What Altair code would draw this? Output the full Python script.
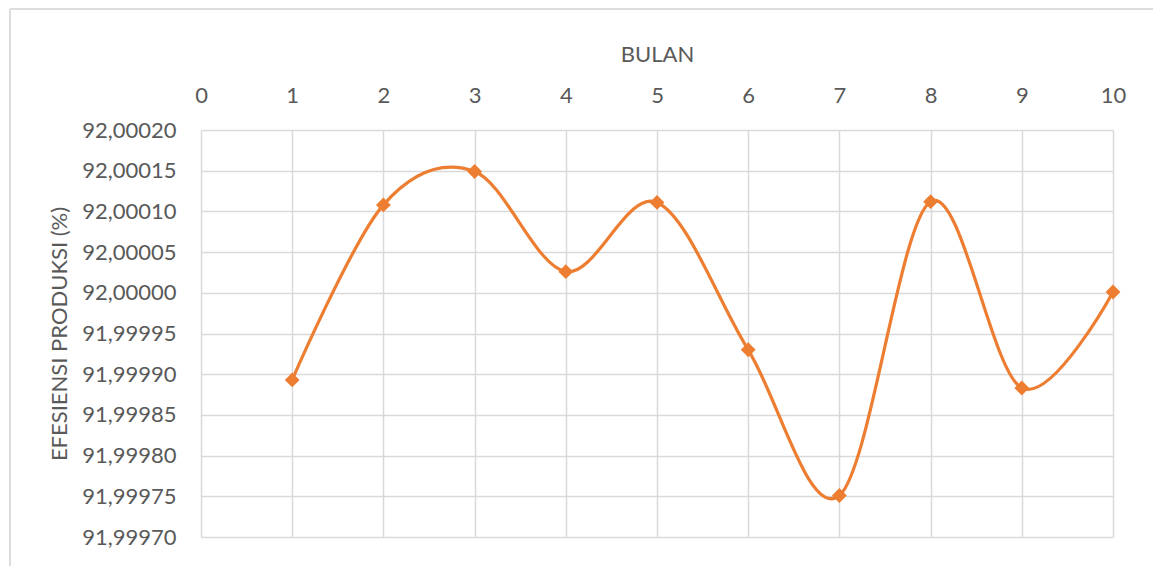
import altair as alt
import pandas as pd

# Monthly production efficiency (%)
bulan = [1, 2, 3, 4, 5, 6, 7, 8, 9, 10]
efesiensi = [91.999893, 92.000108, 92.000149, 92.000026, 92.000111,
             91.999930, 91.999751, 92.000112, 91.999883, 92.000001]

x_ticks = [0, 1, 2, 3, 4, 5, 6, 7, 8, 9, 10]
y_ticks = [91.99970, 91.99975, 91.99980, 91.99985, 91.99990, 91.99995,
           92.00000, 92.00005, 92.00010, 92.00015, 92.00020]

df = pd.DataFrame({"BULAN": bulan, "EFESIENSI": efesiensi})

FONT = "Lato"
TEXT = "#595959"
GRID = "#d9d9d9"
ORANGE = "#ED7D31"

x_enc = alt.X(
    "BULAN:Q",
    scale=alt.Scale(domain=[0, 10], nice=False, zero=False),
    axis=alt.Axis(
        orient="top", values=x_ticks, format="d", title="BULAN",
        ticks=False, tickSize=0, domain=False, labelPadding=23,
        labelFlush=False, titlePadding=18,
    ),
)
y_enc = alt.Y(
    "EFESIENSI:Q",
    scale=alt.Scale(domain=[91.99970, 92.00020], nice=False, zero=False),
    axis=alt.Axis(
        values=y_ticks, title="EFESIENSI PRODUKSI (%)",
        labelExpr="replace(format(datum.value, '.5f'), '.', ',')",
        ticks=False, tickSize=0, domain=False, labelPadding=25,
        titlePadding=10,
    ),
)

line = alt.Chart(df).mark_line(
    interpolate="cardinal", tension=0, color=ORANGE, strokeWidth=3.2
).encode(x=x_enc, y=y_enc)

points = alt.Chart(df).mark_point(
    shape="diamond", filled=True, size=220, color=ORANGE, opacity=1
).encode(x="BULAN:Q", y="EFESIENSI:Q")

# Light outer frame around the chart
frame_df = pd.DataFrame({"k": [0]})
frame_top = alt.Chart(frame_df).mark_rule(color="#dcdcdc", strokeWidth=2).encode(
    x=alt.value(-191), x2=alt.value(960), y=alt.value(-121)
)
frame_left = alt.Chart(frame_df).mark_rule(color="#dcdcdc", strokeWidth=2).encode(
    x=alt.value(-191), y=alt.value(-121), y2=alt.value(500)
)

chart = (
    alt.layer(frame_top, frame_left, line, points)
    .properties(
        width=912, height=407,
        autosize=alt.AutoSizeParams(type="none"),
        padding={"left": 201, "top": 130, "right": 40, "bottom": 29},
        background="white",
    )
    .configure_view(stroke=None)
    .configure_axis(
        labelFont=FONT, titleFont=FONT, labelFontSize=22, titleFontSize=22,
        labelColor=TEXT, titleColor=TEXT, titleFontWeight="normal",
        grid=True, gridColor=GRID, gridWidth=1.5,
    )
)

chart.save("out.html", embed_options={"renderer": "svg", "actions": False})
